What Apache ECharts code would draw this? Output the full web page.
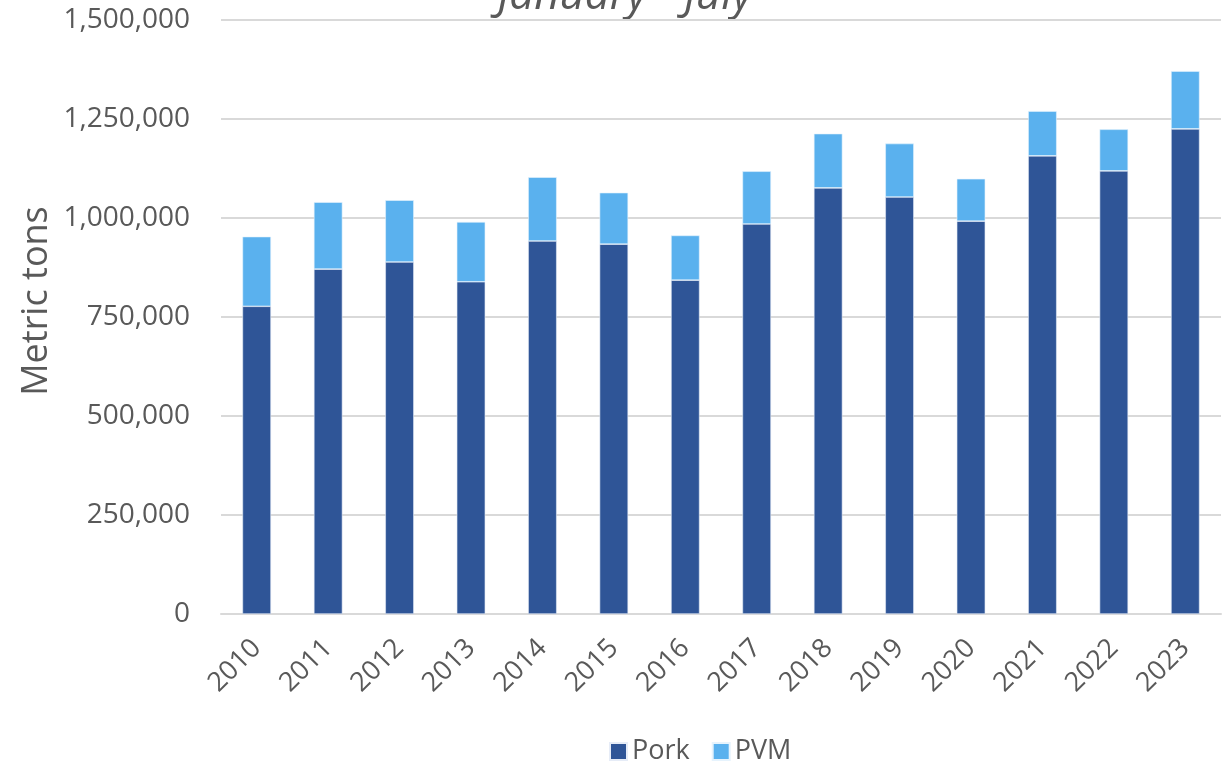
<!DOCTYPE html>
<html>
<head>
<meta charset="utf-8">
<script src="https://cdn.jsdelivr.net/npm/echarts@6/dist/echarts.min.js"></script>
<style>
html,body{margin:0;padding:0;background:#fff;}
#chart{width:1230px;height:765px;}
</style>
</head>
<body>
<div id="chart"></div>
<script>
const years = ['2010','2011','2012','2013','2014','2015','2016','2017','2018','2019','2020','2021','2022','2023'];
const pork = [777000, 871000, 889000, 839000, 942000, 934000, 843000, 985000, 1076000, 1053000, 992000, 1157000, 1119000, 1225000];
const pvm  = [176000, 169000, 156000, 151000, 161000, 130000, 113000, 133000, 137000, 135000, 107000, 113000, 105000, 146000];
const seriesNames = ['Pork', 'PVM'];
const titleText = 'January - July';
const yAxisName = 'Metric tons';

const FONT = '"Open Sans", "Noto Sans", sans-serif';
const TXT = '#595959';

const chart = echarts.init(document.getElementById('chart'), null, {renderer: 'canvas'});
chart.setOption({
  animation: false,
  backgroundColor: '#ffffff',
  textStyle: {fontFamily: FONT, color: TXT},
  grid: {left: 221, right: 9, top: 20, bottom: 151, containLabel: false},
  graphic: [{
    type: 'text', x: 625, y: 18,
    style: {text: titleText, font: 'italic 44px ' + FONT, fill: TXT, align: 'center', verticalAlign: 'bottom'}
  }, {
    type: 'text', x: 37, y: 301, rotation: Math.PI / 2,
    style: {text: yAxisName, font: '36px ' + FONT, fill: TXT, align: 'center', verticalAlign: 'middle'}
  }],
  legend: {
    data: seriesNames,
    left: 604, top: 733,
    itemWidth: 17, itemHeight: 17, itemGap: 22,
    icon: 'rect',
    textStyle: {fontSize: 27, color: TXT, fontFamily: FONT}
  },
  xAxis: {
    type: 'category', data: years,
    axisLine: {lineStyle: {color: '#D9D9D9', width: 2}},
    axisTick: {show: false},
    axisLabel: {rotate: 45, margin: 30, fontSize: 27, color: TXT, fontFamily: FONT, interval: 0}
  },
  yAxis: {
    type: 'value', min: 0, max: 1500000, interval: 250000,
    axisLine: {show: false}, axisTick: {show: false},
    axisLabel: {margin: 31, fontSize: 28, color: TXT, fontFamily: FONT,
      formatter: v => v.toLocaleString('en-US')},
    splitLine: {lineStyle: {color: '#D9D9D9', width: 2}}
  },
  series: [
    {name: seriesNames[0], type: 'bar', stack: 'total', data: pork, barCategoryGap: '60%',
     itemStyle: {color: '#2F5597', borderColor: '#E6ECF7', borderWidth: 0.6}},
    {name: seriesNames[1], type: 'bar', stack: 'total', data: pvm, barCategoryGap: '60%',
     itemStyle: {color: '#5AB1EE', borderColor: '#E6F3FD', borderWidth: 0.6}}
  ]
});
</script>
</body>
</html>
